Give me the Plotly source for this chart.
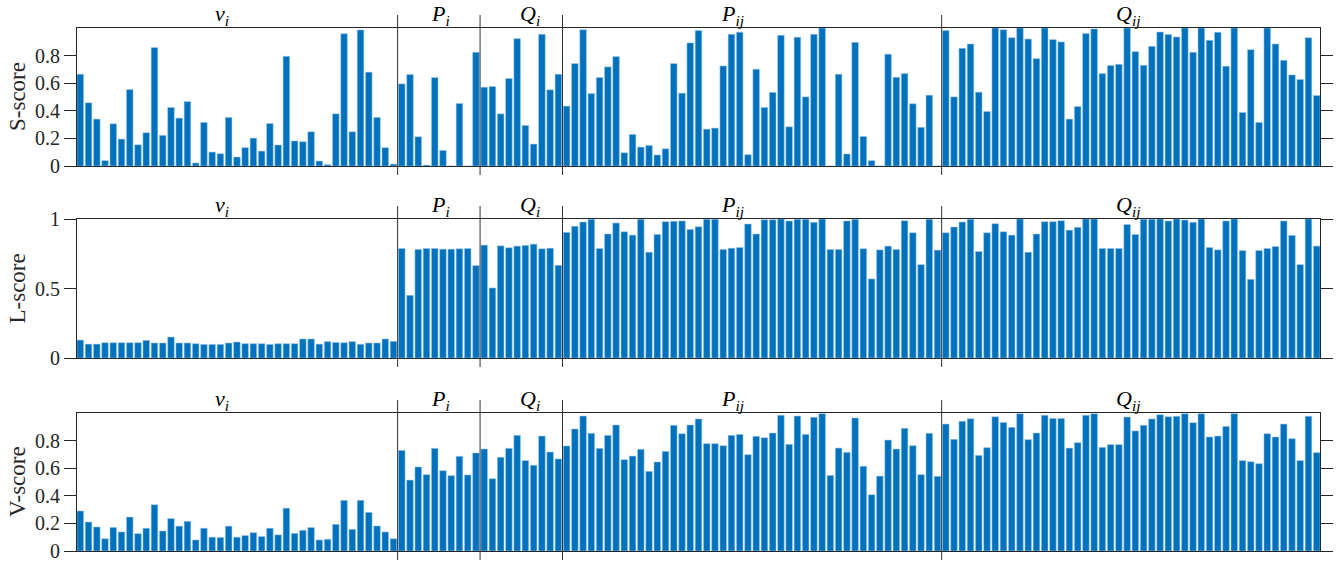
import plotly.graph_objects as go

# ---------------- data ----------------
section_names = ["<i>v</i><sub><i>i</i></sub>", "<i>P</i><sub><i>i</i></sub>", "<i>Q</i><sub><i>i</i></sub>",
                 "<i>P</i><sub><i>ij</i></sub>", "<i>Q</i><sub><i>ij</i></sub>"]
section_sizes = [39, 10, 10, 46, 46]
section_label_x = [18.2, 44.7, 55.6, 80.1, 128.1]

s_score = [
    # v_i (39)
    0.665, 0.458, 0.34, 0.039, 0.306, 0.195, 0.554, 0.154, 0.241, 0.858,
    0.222, 0.424, 0.347, 0.467, 0.022, 0.316, 0.101, 0.089, 0.352, 0.065,
    0.133, 0.202, 0.108, 0.308, 0.152, 0.795, 0.181, 0.176, 0.248, 0.036,
    0.01, 0.378, 0.959, 0.248, 0.986, 0.68, 0.352, 0.133, 0.014,
    # P_i (10)
    0.595, 0.663, 0.212, 0.007, 0.641, 0.113, 0.0, 0.453, 0.0, 0.824,
    # Q_i (10)
    0.571, 0.576, 0.378, 0.634, 0.923, 0.294, 0.159, 0.954, 0.552, 0.665,
    # P_ij (46)
    0.434, 0.742, 0.988, 0.525, 0.641, 0.718, 0.793, 0.096, 0.229, 0.137,
    0.149, 0.08, 0.125, 0.742, 0.528, 0.892, 0.981, 0.267, 0.275, 0.725,
    0.954, 0.969, 0.082, 0.701, 0.424, 0.533, 0.947, 0.284, 0.933, 0.501,
    0.954, 1.0, 0.0, 0.665, 0.087, 0.896, 0.214, 0.039, 0.0, 0.81,
    0.643, 0.67, 0.451, 0.28, 0.513, 0.0,
    # Q_ij (46)
    0.981, 0.501, 0.853, 0.884, 0.535, 0.395, 1.0, 0.988, 0.93, 1.0,
    0.92, 0.778, 1.0, 0.916, 0.899, 0.34, 0.431, 0.961, 0.993, 0.67,
    0.728, 0.737, 1.0, 0.829, 0.73, 0.867, 0.971, 0.952, 0.935, 1.0,
    0.824, 1.0, 0.911, 0.969, 0.723, 1.0, 0.388, 0.843, 0.316, 1.0,
    0.884, 0.766, 0.66, 0.627, 0.93, 0.511,
]

l_score = [
    # v_i (39)
    0.129, 0.10, 0.10, 0.11, 0.11, 0.11, 0.11, 0.11, 0.127, 0.108,
    0.108, 0.151, 0.108, 0.108, 0.103, 0.098, 0.098, 0.098, 0.108, 0.115,
    0.103, 0.103, 0.103, 0.098, 0.103, 0.103, 0.103, 0.137, 0.137, 0.10,
    0.118, 0.112, 0.11, 0.118, 0.099, 0.108, 0.108, 0.137, 0.12,
    # P_i (10)
    0.788, 0.451, 0.781, 0.788, 0.788, 0.783, 0.783, 0.786, 0.788, 0.665,
    # Q_i (10)
    0.812, 0.504, 0.807, 0.793, 0.805, 0.81, 0.819, 0.786, 0.79, 0.667,
    # P_ij (46)
    0.904, 0.947, 0.978, 0.998, 0.788, 0.892, 0.971, 0.908, 0.884, 0.998,
    0.761, 0.889, 0.981, 0.983, 0.986, 0.925, 0.945, 0.998, 0.998, 0.781,
    0.79, 0.795, 0.964, 0.892, 0.995, 0.995, 1.0, 0.986, 0.998, 0.998,
    0.976, 1.0, 0.781, 0.781, 0.986, 0.998, 0.786, 0.569, 0.778, 0.805,
    0.781, 0.988, 0.901, 0.672, 0.998, 0.776,
    # Q_ij (46)
    0.901, 0.942, 0.978, 0.998, 0.766, 0.901, 0.966, 0.908, 0.884, 1.0,
    0.761, 0.892, 0.981, 0.981, 0.988, 0.92, 0.94, 1.0, 1.0, 0.788,
    0.788, 0.788, 0.961, 0.889, 0.998, 0.998, 1.0, 0.986, 1.0, 0.993,
    0.976, 1.0, 0.795, 0.778, 0.986, 1.0, 0.773, 0.566, 0.773, 0.788,
    0.802, 0.986, 0.882, 0.672, 1.0, 0.805,
]

v_score = [
    # v_i (39)
    0.29, 0.21, 0.174, 0.089, 0.171, 0.138, 0.246, 0.126, 0.165, 0.335,
    0.145, 0.235, 0.18, 0.215, 0.08, 0.165, 0.10, 0.098, 0.18, 0.10,
    0.112, 0.133, 0.105, 0.165, 0.117, 0.31, 0.128, 0.15, 0.17, 0.08,
    0.085, 0.193, 0.367, 0.157, 0.367, 0.28, 0.181, 0.138, 0.089,
    # P_i (10)
    0.729, 0.514, 0.609, 0.553, 0.744, 0.582, 0.546, 0.686, 0.551, 0.71,
    # Q_i (10)
    0.739, 0.524, 0.679, 0.744, 0.838, 0.655, 0.621, 0.833, 0.717, 0.667,
    # P_ij (46)
    0.761, 0.884, 0.978, 0.853, 0.744, 0.838, 0.913, 0.662, 0.688, 0.737,
    0.577, 0.645, 0.722, 0.911, 0.85, 0.913, 0.957, 0.778, 0.778, 0.763,
    0.838, 0.845, 0.698, 0.831, 0.821, 0.855, 0.983, 0.773, 0.978, 0.845,
    0.969, 0.995, 0.548, 0.746, 0.715, 0.964, 0.614, 0.408, 0.543, 0.804,
    0.739, 0.889, 0.763, 0.553, 0.853, 0.541,
    # Q_ij (46)
    0.92, 0.809, 0.94, 0.959, 0.693, 0.749, 0.973, 0.932, 0.896, 0.995,
    0.807, 0.855, 0.983, 0.961, 0.961, 0.746, 0.785, 0.983, 0.995, 0.751,
    0.771, 0.771, 0.971, 0.87, 0.911, 0.957, 0.988, 0.973, 0.976, 0.995,
    0.93, 0.995, 0.826, 0.833, 0.903, 0.995, 0.655, 0.647, 0.633, 0.85,
    0.826, 0.92, 0.814, 0.655, 0.976, 0.713,
]

panel_titles = ["S-score", "L-score", "V-score"]
panel_tickvals = [[0, 0.2, 0.4, 0.6, 0.8], [0, 0.5, 1], [0, 0.2, 0.4, 0.6, 0.8]]
panel_ticktext = [["0", "0.2", "0.4", "0.6", "0.8"], ["0", "0.5", "1"], ["0", "0.2", "0.4", "0.6", "0.8"]]
panel_values = [s_score, l_score, v_score]

# ---------------- layout helpers ----------------
W, H = 1343, 563
panel_px = [(28, 166), (219, 358), (413, 551)]  # top, bottom in pixels
x_index = list(range(1, sum(section_sizes) + 1))
boundaries = []
acc = 0
for n in section_sizes[:-1]:
    acc += n
    boundaries.append(acc + 0.5)

BAR = "#0072BD"
AX = "#262626"
FONT = "Liberation Serif"

fig = go.Figure()
layout = dict(
    width=W, height=H,
    margin=dict(l=0, r=0, t=0, b=0),
    paper_bgcolor="white", plot_bgcolor="white",
    showlegend=False, bargap=0.2,
    font=dict(family=FONT, color=AX),
)
annotations = []
shapes = []
for k in range(3):
    xa = "xaxis" if k == 0 else f"xaxis{k+1}"
    ya = "yaxis" if k == 0 else f"yaxis{k+1}"
    xr = "x" if k == 0 else f"x{k+1}"
    yr = "y" if k == 0 else f"y{k+1}"
    top, bot = panel_px[k]
    dom = [1 - bot / H, 1 - top / H]
    fig.add_trace(go.Bar(
        x=x_index, y=panel_values[k], xaxis=xr, yaxis=yr, width=0.8,
        marker=dict(color=BAR, line=dict(color="rgba(160,200,235,0.9)", width=0.6)),
        hoverinfo="x+y",
    ))
    layout[xa] = dict(
        domain=[77 / W, 1320 / W], range=[0.6, 151.4], anchor=yr,
        showline=True, mirror=True, linecolor=AX, linewidth=1,
        ticks="", showticklabels=False, showgrid=False, zeroline=False,
    )
    layout[ya] = dict(
        domain=dom, range=[0, 1], anchor=xr,
        tickvals=panel_tickvals[k], ticktext=panel_ticktext[k],
        ticks="outside", ticklen=12, tickwidth=1, tickcolor=AX,
        showline=True, mirror="ticks", linecolor=AX, linewidth=1,
        showgrid=False, zeroline=False, automargin=False,
        tickfont=dict(family=FONT, size=20, color=AX),
    )
    # y-axis title
    annotations.append(dict(
        text=panel_titles[k], xref="paper", yref="paper",
        x=17 / W, y=1 - (top + bot) / 2 / H, xanchor="center", yanchor="middle",
        textangle=-90, showarrow=False, font=dict(family=FONT, size=23, color=AX),
    ))
    # section labels
    for name, lx in zip(section_names, section_label_x):
        annotations.append(dict(
            text=name, xref=xr, yref=f"{yr} domain", x=lx, y=1,
            xanchor="center", yanchor="bottom", yshift=-2, borderpad=0,
            showarrow=False, font=dict(family=FONT, size=22, color="black"),
        ))
    # section separators
    h = bot - top
    for b in boundaries:
        shapes.append(dict(
            type="line", xref=xr, yref=f"{yr} domain", x0=b, x1=b,
            y0=-9 / h, y1=1 + 13 / h, line=dict(color="#333333", width=1),
        ))

layout["annotations"] = annotations
layout["shapes"] = shapes
fig.update_layout(**layout)
fig.write_html("out.html")
